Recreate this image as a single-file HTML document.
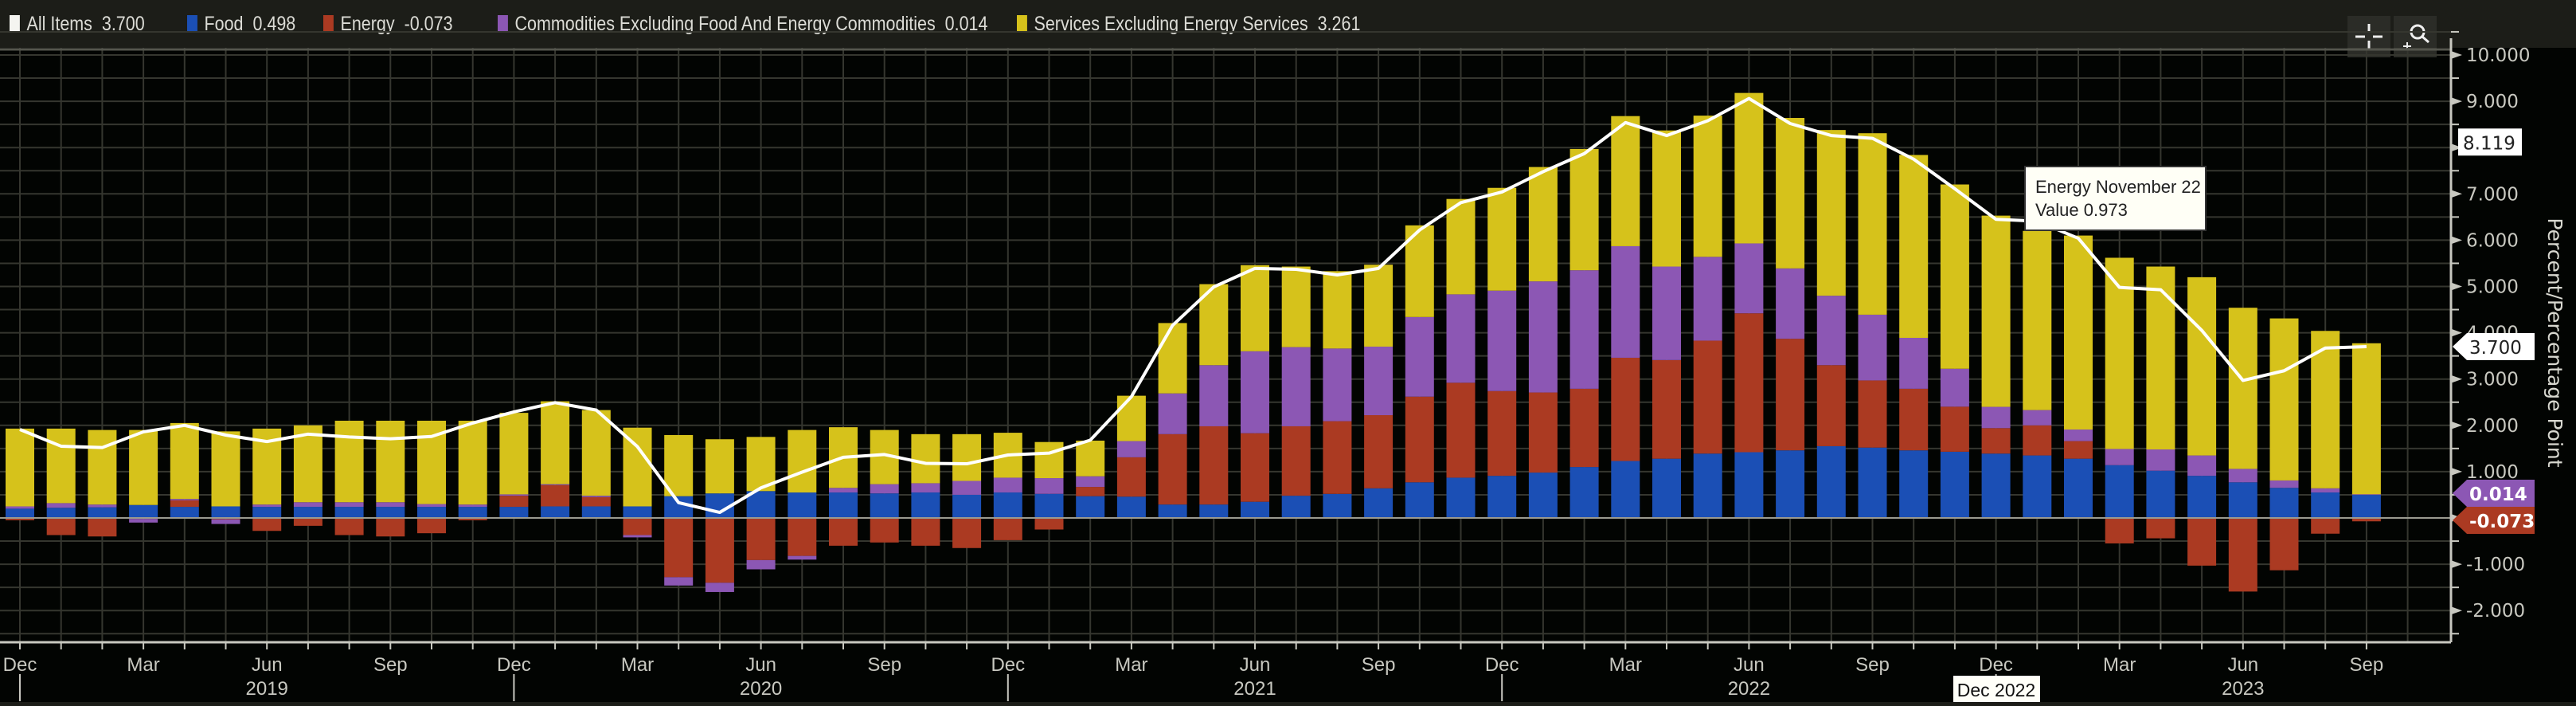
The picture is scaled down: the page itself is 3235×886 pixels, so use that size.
<!DOCTYPE html>
<html><head><meta charset="utf-8">
<style>
html,body{margin:0;padding:0;background:#020402;}
body{width:3235px;height:886px;overflow:hidden;position:relative;font-family:"Liberation Sans",sans-serif;}
#header{position:absolute;left:0;top:0;width:3235px;height:60px;background:#1c1d18;}
.leg{position:absolute;top:14px;height:32px;display:flex;align-items:center;color:#dcdcd6;font-size:25px;white-space:nowrap;transform:scaleX(0.86);transform-origin:left center;}
.sw{display:inline-block;width:15px;height:22px;margin-right:10px;}
.iconbox{position:absolute;top:20px;width:54px;height:52px;background:#2b2c27;}
svg{position:absolute;left:0;top:0;}
</style></head>
<body>
<div id="header">
  <div class="leg" style="left:12px"><span class="sw" style="background:#f4f4f0"></span>All Items&nbsp; 3.700</div>
  <div class="leg" style="left:235px"><span class="sw" style="background:#1b4fb5"></span>Food&nbsp; 0.498</div>
  <div class="leg" style="left:406px"><span class="sw" style="background:#ab3a22"></span>Energy&nbsp; -0.073</div>
  <div class="leg" style="left:625px"><span class="sw" style="background:#8c57b4"></span>Commodities Excluding Food And Energy Commodities&nbsp; 0.014</div>
  <div class="leg" style="left:1277px"><span class="sw" style="background:#d6c21b"></span>Services Excluding Energy Services&nbsp; 3.261</div>
</div>
<div class="iconbox" style="left:2948px">
  <svg width="54" height="52" style="position:absolute;left:0;top:0"><g stroke="#eee" stroke-width="3"><line x1="10" y1="26" x2="22" y2="26"/><line x1="32" y1="26" x2="44" y2="26"/><line x1="27" y1="10" x2="27" y2="20"/><line x1="27" y1="31" x2="27" y2="41"/></g></svg>
</div>
<div class="iconbox" style="left:3006px">
  <svg width="54" height="52" style="position:absolute;left:0;top:0"><circle cx="30" cy="20" r="8" fill="none" stroke="#eee" stroke-width="3"/><line x1="36" y1="26" x2="44" y2="33" stroke="#eee" stroke-width="3"/><g stroke="#eee" stroke-width="2"><line x1="12" y1="38" x2="22" y2="38"/><line x1="17" y1="33" x2="17" y2="43"/></g></svg>
</div>
<svg id="chart" width="3235" height="886" style="top:0;left:0;pointer-events:none"></svg>
<script>
const months = ["Dec","Jan","Feb","Mar","Apr","May","Jun","Jul","Aug","Sep","Oct","Nov"];
const startYear = 2018;
const food = [0.20,0.22,0.23,0.28,0.24,0.25,0.24,0.24,0.24,0.24,0.24,0.24,0.24,0.25,0.25,0.25,0.47,0.53,0.58,0.55,0.55,0.53,0.55,0.50,0.55,0.52,0.47,0.46,0.29,0.29,0.35,0.48,0.52,0.64,0.77,0.87,0.91,0.98,1.10,1.23,1.28,1.39,1.42,1.46,1.55,1.52,1.46,1.43,1.39,1.35,1.28,1.14,1.02,0.91,0.77,0.65,0.55,0.498];
const energy = [-0.05,-0.37,-0.40,-0.02,0.14,-0.03,-0.28,-0.17,-0.37,-0.40,-0.33,-0.05,0.24,0.46,0.20,-0.37,-1.28,-1.40,-0.91,-0.82,-0.60,-0.53,-0.60,-0.65,-0.48,-0.25,0.20,0.85,1.52,1.69,1.48,1.50,1.57,1.58,1.85,2.05,1.83,1.73,1.69,2.23,2.13,2.44,3.00,2.41,1.75,1.45,1.33,0.973,0.55,0.65,0.38,-0.55,-0.44,-1.03,-1.59,-1.13,-0.34,-0.073];
const coreGoods = [0.05,0.10,0.06,-0.08,0.03,-0.10,0.05,0.10,0.10,0.10,0.06,0.05,0.03,0.02,0.03,-0.05,-0.18,-0.20,-0.20,-0.08,0.10,0.20,0.20,0.30,0.32,0.34,0.23,0.35,0.88,1.32,1.77,1.71,1.57,1.48,1.72,1.91,2.17,2.40,2.56,2.41,2.02,1.81,1.51,1.52,1.50,1.42,1.10,0.82,0.46,0.33,0.25,0.35,0.46,0.44,0.29,0.16,0.09,0.014];
const services = [1.68,1.61,1.61,1.62,1.64,1.62,1.64,1.66,1.76,1.76,1.80,1.81,1.76,1.79,1.85,1.70,1.32,1.17,1.17,1.35,1.31,1.17,1.06,1.01,0.97,0.78,0.77,0.98,1.52,1.75,1.86,1.74,1.67,1.77,1.98,2.06,2.22,2.47,2.62,2.81,2.94,3.05,3.25,3.25,3.58,3.92,3.95,3.98,4.13,3.87,4.19,4.13,3.95,3.85,3.48,3.50,3.40,3.261];
const allItems = [1.91,1.55,1.52,1.86,2.00,1.79,1.65,1.81,1.75,1.71,1.76,2.05,2.29,2.49,2.33,1.54,0.33,0.12,0.65,0.99,1.31,1.37,1.18,1.17,1.36,1.40,1.68,2.62,4.16,4.99,5.39,5.37,5.25,5.39,6.22,6.81,7.04,7.48,7.87,8.54,8.26,8.58,9.06,8.52,8.26,8.20,7.75,7.11,6.45,6.41,6.04,4.98,4.93,4.05,2.97,3.18,3.67,3.70];
const yTicks = [-2,-1,0,1,2,3,4,5,6,7,8,9,10];

const NS="http://www.w3.org/2000/svg";
const svg=document.getElementById('chart');
const X0=25, DX=51.7, Y0=650, DY=58.1, PR=3078, PT=60, PB=806;
const xs=i=>X0+DX*i, ys=v=>Y0-DY*v;
function mk(tag,attrs,parent){const e=document.createElementNS(NS,tag);for(const k in attrs)e.setAttribute(k,attrs[k]);(parent||svg).appendChild(e);return e;}

const grid=mk('g',{});


for(let v=-2.5;v<=10.5;v+=0.5){mk('line',{x1:0,x2:PR,y1:ys(v),y2:ys(v),stroke:'#35362f','stroke-width':2},grid);}
for(let i=0;i<=58;i++){mk('line',{x1:xs(i),x2:xs(i),y1:PT,y2:PB,stroke:'#35362f','stroke-width':2},grid);}
mk('line',{x1:0,x2:PR,y1:PT+2,y2:PT+2,stroke:'#55564e','stroke-width':3},grid);

const series=[[food,'#1b4fb5','food'],[energy,'#ab3a22','energy'],[coreGoods,'#8c57b4','core-goods'],[services,'#d6c21b','services']];
const bars=mk('g',{});


const BW=36;
for(let i=0;i<food.length;i++){
  let pos=0,neg=0;
  for(const [arr,col,nm] of series){
    const v=arr[i];let y1,y2;
    if(v>=0){y1=pos;y2=pos+v;pos=y2;}else{y1=neg;y2=neg+v;neg=y2;}
    const r=mk('rect',{x:xs(i)-BW/2,y:Math.min(ys(y1),ys(y2)),width:BW,height:Math.abs(ys(y1)-ys(y2)),fill:col},bars);
    
    
  }
}
mk('line',{x1:0,x2:PR,y1:Y0,y2:Y0,stroke:'#9a9a90','stroke-width':2});

const pts=allItems.map((v,i)=>xs(i)+','+ys(v)).join(' ');
const ln=mk('polyline',{points:pts,fill:'none',stroke:'#ffffff','stroke-width':4,'stroke-linejoin':'round'});



mk('line',{x1:PR,x2:PR,y1:48,y2:PB,stroke:'#c8c8c0','stroke-width':3});
mk('line',{x1:0,x2:PR,y1:PB,y2:PB,stroke:'#c8c8c0','stroke-width':3});
const yax=mk('g',{});


for(let v=-2.5;v<=10.5;v+=0.5){mk('line',{x1:PR,x2:PR+10,y1:ys(v),y2:ys(v),stroke:'#c8c8c0','stroke-width':2},yax);}
for(const v of yTicks){
  const y=ys(v);
  mk('polygon',{points:`${PR},${y-5} ${PR+14},${y} ${PR},${y+5}`,fill:'#c8c8c0'},yax);
  const t=mk('text',{x:3097,y:y+8,fill:'#c8c8c0','font-size':23,'font-family':'DejaVu Sans, sans-serif'},yax);
  t.textContent=v.toFixed(3);
  
  
}
const yt=mk('text',{x:3200,y:430,fill:'#d8d8d0','font-size':25,'text-anchor':'middle',transform:'rotate(90 3200 430)','font-family':'DejaVu Sans, sans-serif'});
yt.textContent='Percent/Percentage Point';



const xax=mk('g',{});


for(let i=0;i<food.length;i++){
  mk('line',{x1:xs(i),x2:xs(i),y1:PB,y2:PB+9,stroke:'#c8c8c0','stroke-width':2},xax);
  const m=months[i%12];
  if(i%3===0){
    const t=mk('text',{x:xs(i),y:842,fill:'#c8c8c0','font-size':24,'text-anchor':'middle'},xax);
    t.textContent=m;
    
    
  }
  if(i%12===0){mk('line',{x1:xs(i),x2:xs(i),y1:846,y2:880,stroke:'#c8c8c0','stroke-width':2},xax);}
  if(i%12===6){
    const t=mk('text',{x:xs(i),y:872,fill:'#c8c8c0','font-size':24,'text-anchor':'middle'},xax);
    t.textContent=String(startYear+1+Math.floor(i/12));
    
    
  }
}
mk('rect',{x:0,y:881,width:3235,height:5,fill:'#1c1d18'});
const dm=mk('g',{});


mk('rect',{x:2453,y:848,width:109,height:33,fill:'#fffff8'},dm);
const dt=mk('text',{x:2507,y:874,fill:'#111','font-size':23,'text-anchor':'middle'},dm);dt.textContent='Dec 2022';

function tag(y,val,bg,fg,name,arrow){
  const g=mk('g',{});
  
  
  if(arrow) mk('polygon',{points:`3080,${y} 3098,${y-17} 3183,${y-17} 3183,${y+17} 3098,${y+17}`,fill:bg},g);
  else mk('rect',{x:3087,y:y-17,width:80,height:34,fill:bg},g);
  const t=mk('text',{x:arrow?3101:3093,y:y+9,fill:fg,'font-size':23,'font-family':'DejaVu Sans, sans-serif','font-weight':arrow&&fg!=='#222'?'bold':'normal'},g);
  t.textContent=val;
}
tag(ys(8.119),'8.119','#ffffff','#222','last-value-8119',false);
tag(ys(3.70),'3.700','#ffffff','#222','last-value-all-items',true);
tag(619,'0.014','#8c57b4','#ffffff','last-value-core-goods',true);
tag(653,'-0.073','#ab3a22','#ffffff','last-value-energy',true);

const tp=mk('g',{});


mk('rect',{x:2543,y:209,width:227,height:80,fill:'#fffff6',stroke:'#333','stroke-width':2},tp);
const t1=mk('text',{x:2556,y:242,fill:'#222','font-size':22},tp);t1.textContent='Energy November 22';
const t2=mk('text',{x:2556,y:271,fill:'#222','font-size':22},tp);t2.textContent='Value 0.973';
</script>
</body></html>
